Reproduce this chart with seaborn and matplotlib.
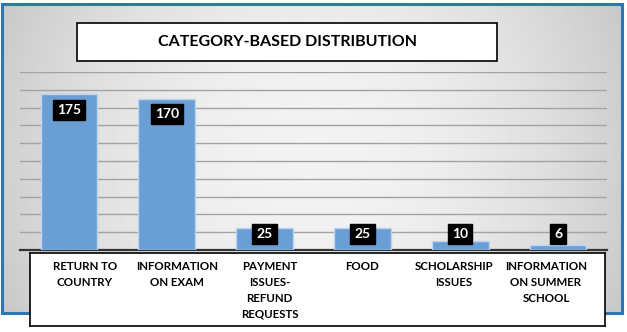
import numpy as np
import pandas as pd
import matplotlib
matplotlib.use("Agg")
import matplotlib.pyplot as plt
from matplotlib.patches import Rectangle
import seaborn as sns

categories = ["RETURN TO\nCOUNTRY", "INFORMATION\nON EXAM", "PAYMENT\nISSUES-\nREFUND\nREQUESTS",
              "FOOD", "SCHOLARSHIP\nISSUES", "INFORMATION\nON SUMMER\nSCHOOL"]
counts = [175, 170, 25, 25, 10, 6]
title = "CATEGORY-BASED DISTRIBUTION"

W, H = 627, 332

def fx(px):
    return px / W

def fy(py):
    return 1 - py / H

sns.set_theme(style="white")
plt.rcParams['font.family'] = ['Lato', 'DejaVu Sans']

fig = plt.figure(figsize=(W / 100, H / 100), dpi=100)
fig.patch.set_facecolor("white")

# gray gradient background inside the blue frame
bg = fig.add_axes([fx(2), fy(313), fx(620), 309 / H], zorder=0)
xs = np.linspace(-1, 1, 300)
ys = np.linspace(-1, 1, 150)
gx, gy = np.meshgrid(xs, ys)
shade = 0.95 - 0.15 * np.clip(np.sqrt((gx * 0.95) ** 2 + (gy * 0.45) ** 2), 0, 1.2) ** 2
bg.imshow(shade, cmap="gray", vmin=0, vmax=1, aspect="auto", extent=[0, 1, 0, 1])
bg.set_axis_off()
fig.patches.append(Rectangle((fx(2), fy(313)), fx(620), 309 / H, transform=fig.transFigure,
                             fill=False, edgecolor="#2e75b6", lw=2.2, zorder=1))

# main bar axes
ax = fig.add_axes([fx(20), fy(250), fx(587), 178 / H], zorder=2)
ax.patch.set_alpha(0)
df = pd.DataFrame({"category": categories, "count": counts})
sns.barplot(data=df, x="category", y="count", color="#6a9fd6", saturation=1,
            width=0.58, edgecolor="#bcd4ee", linewidth=1, ax=ax, zorder=3)
ax.set_ylim(0, 200)
ax.set_xlim(-0.5, 5.5)
ax.set_yticks(np.arange(20, 201, 20))
ax.yaxis.grid(True, color="#a3a3a3", lw=1.0)
ax.set_axisbelow(True)
ax.set_xticks([])
ax.set_yticklabels([])
ax.tick_params(length=0)
ax.set_xlabel("")
ax.set_ylabel("")
for s in ["top", "right", "left"]:
    ax.spines[s].set_visible(False)
ax.spines["bottom"].set_color("#333333")
ax.spines["bottom"].set_linewidth(1.6)

for i, v in enumerate(counts):
    ax.text(i, max(v - 17.5, 18), str(v), ha="center", va="center", color="white",
            fontsize=10, fontweight="bold", zorder=5,
            bbox=dict(boxstyle="square,pad=0.3", fc="black", ec="black"))

# category label box
lab = fig.add_axes([fx(30), fy(326), fx(575), 73 / H], zorder=3)
lab.set_facecolor("white")
lab.set_xlim(-0.597, 5.64)
lab.set_ylim(0, 1)
lab.set_xticks([])
lab.set_yticks([])
for s in lab.spines.values():
    s.set_color("black")
    s.set_linewidth(1.2)
for i, c in enumerate(categories):
    lab.text(i, 1 - 8 / 73, c, ha="center", va="top", fontsize=8.3, fontweight="bold",
             color="black", linespacing=1.55)

# title box
fig.patches.append(Rectangle((fx(77), fy(61)), fx(420), 38 / H, transform=fig.transFigure,
                             facecolor="white", edgecolor="black", lw=1.2, zorder=4))
fig.text(fx(287), fy(42), title, ha="center", va="center", fontsize=11.5,
         fontweight="bold", color="black", zorder=5)

fig.savefig("out.png", dpi=100)
